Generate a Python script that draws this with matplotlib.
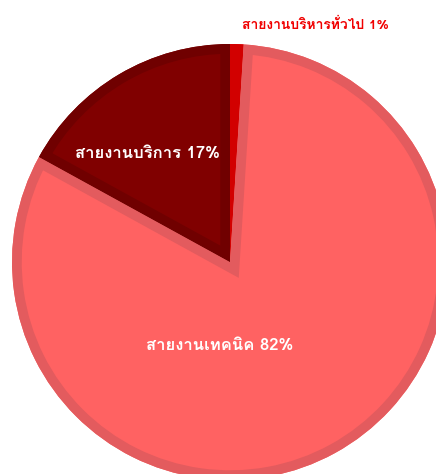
import matplotlib
matplotlib.use("Agg")
import matplotlib.pyplot as plt
from matplotlib import font_manager
from matplotlib.ft2font import FT2Font
from matplotlib.patches import Wedge

# ── data ──────────────────────────────────────────────────────────────
categories = ['สายงานบริหารทั่วไป', 'สายงานเทคนิค', 'สายงานบริการ']
values = [1, 82, 17]

# ── style ─────────────────────────────────────────────────────────────
face_colors = ['#E60000', '#FF6262', '#800000']
edge_colors = ['#D20000', '#E35B5E', '#700000']
label_colors = ['#F00000', 'white', 'white']
label_sizes = [10, 12, 12]
# label anchor points (data units, pie radius = 1)
label_pos = [(0.39, 1.088), (-0.046, -0.381), (-0.378, 0.50)]

# find a font that can draw Thai
thai_font = None
for f in font_manager.fontManager.ttflist:
    try:
        if 0x0E2A in FT2Font(f.fname).get_charmap():
            thai_font = f.name
            break
    except Exception:
        pass
families = [thai_font, 'DejaVu Sans'] if thai_font else ['DejaVu Sans']
plt.rcParams['font.family'] = families

fig = plt.figure(figsize=(4.36, 4.74), dpi=100)
ax = fig.add_axes([0, 0, 1, 1])

wedges, _ = ax.pie(values, colors=face_colors, startangle=90,
                   counterclock=False, radius=1.0,
                   wedgeprops=dict(linewidth=0))

# inner border: thick stroke clipped to the wedge itself
for w, ec in zip(wedges, edge_colors):
    border = Wedge(w.center, w.r, w.theta1, w.theta2, facecolor='none',
                   edgecolor=ec, linewidth=14, joinstyle='miter')
    ax.add_patch(border)
    border.set_clip_path(w)

for cat, val, pos, col, fs in zip(categories, values, label_pos,
                                   label_colors, label_sizes):
    ax.text(pos[0], pos[1], f'{cat} {val}%', color=col, fontsize=fs,
            fontweight='bold', ha='center', va='center')

ax.set_xlim(-230 / 218, 206 / 218)
ax.set_ylim(-212 / 218, 262 / 218)
ax.set_aspect('auto')
ax.axis('off')

fig.savefig('out.png', dpi=100)
